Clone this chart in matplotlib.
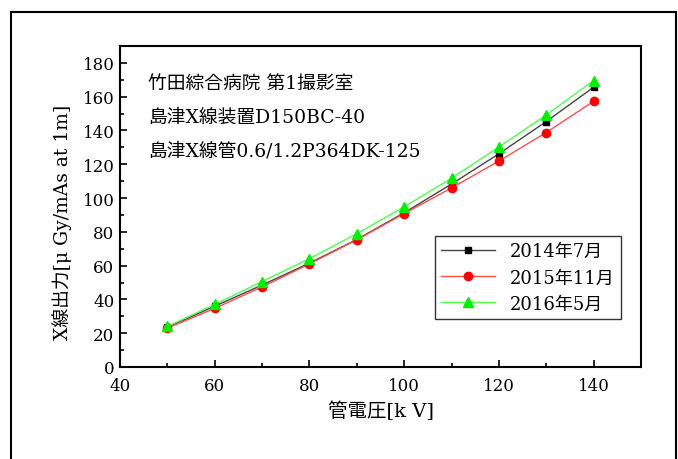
import matplotlib.pyplot as plt
from matplotlib.patches import Rectangle
from matplotlib.ticker import MultipleLocator

plt.rcParams['font.family'] = ['DejaVu Serif', 'Noto Sans CJK JP']

kv = [50, 60, 70, 80, 90, 100, 110, 120, 130, 140]
out_2014_07 = [23.5, 36, 48.5, 61.5, 75.5, 91.3, 108.3, 126.2, 145.3, 165.6]
out_2015_11 = [23.0, 34.7, 47.4, 61.0, 75.3, 90.8, 106.0, 121.9, 138.8, 157.3]
out_2016_05 = [24.0, 37.0, 50.6, 64.1, 78.9, 94.8, 111.7, 130.2, 149.2, 169.5]
labels = ['2014年7月', '2015年11月', '2016年5月']
notes = ['竹田綜合病院 第1撮影室', '島津X線装置D150BC-40', '島津X線管0.6/1.2P364DK-125']

fig = plt.figure(figsize=(6.78, 4.60), dpi=100)
ax = fig.add_axes([120 / 678, 1 - 368 / 460, (641 - 120) / 678, (368 - 47) / 460])

# frame round the whole picture
fig.patches.append(Rectangle((11 / 678, -0.1), 665 / 678, 1.1 - 13 / 460,
                             transform=fig.transFigure, fill=False,
                             edgecolor='black', linewidth=1.5, clip_on=False))

ax.plot(kv, out_2014_07, color='#444444', lw=1, marker='s', ms=5,
        mfc='black', mec='black', label=labels[0])
ax.plot(kv, out_2015_11, color='#ff4d4d', lw=1, marker='o', ms=6,
        mfc='red', mec='red', label=labels[1])
ax.plot(kv, out_2016_05, color='#4dff4d', lw=1, marker='^', ms=7.5,
        mfc='#00ee00', mec='#00ee00', label=labels[2])

ax.set_xlim(40, 150)
ax.set_ylim(0, 190)
ax.xaxis.set_major_locator(MultipleLocator(20))
ax.xaxis.set_minor_locator(MultipleLocator(10))
ax.yaxis.set_major_locator(MultipleLocator(20))
ax.yaxis.set_minor_locator(MultipleLocator(10))
ax.tick_params(which='both', direction='in', labelsize=12, width=1.2)
ax.tick_params(which='major', length=5)
ax.tick_params(which='minor', length=3)
ax.tick_params(axis='x', pad=7)
ax.tick_params(axis='y', pad=4)
for s in ax.spines.values():
    s.set_linewidth(1.5)

ax.set_xlabel('管電圧[k V]', fontsize=14, labelpad=5)
ax.set_ylabel('X線出力[μ Gy/mAs at 1m]', fontsize=13.5)
ax.yaxis.set_label_coords(-0.093, 0.455)

for i, t in enumerate(notes):
    ax.text(0.054, 0.885 - i * 0.105, t, transform=ax.transAxes,
            fontsize=13.5, va='center', ha='left')

leg = ax.legend(loc='upper left', bbox_to_anchor=((435 - 120) / 521, (368 - 237) / 321),
                fontsize=13, frameon=True, fancybox=False, edgecolor='black',
                handlelength=3, borderpad=0.35, labelspacing=0.45, borderaxespad=0)
leg.get_frame().set_linewidth(1)

fig.savefig('out.png', dpi=100)
